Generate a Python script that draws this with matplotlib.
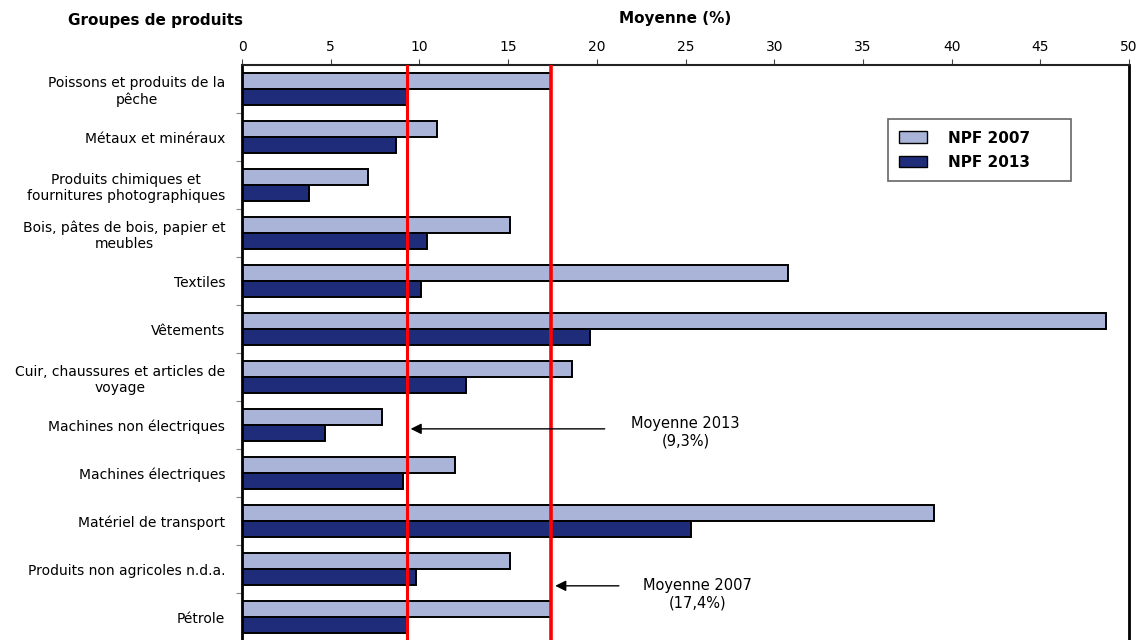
import numpy as np
import matplotlib.pyplot as plt
from matplotlib.patches import Patch

# Tarifs moyens NPF par groupe de produits
groupes = [
    "Poissons et produits de la\npêche",
    "Métaux et minéraux",
    "Produits chimiques et\nfournitures photographiques",
    "Bois, pâtes de bois, papier et\nmeubles",
    "Textiles",
    "Vêtements",
    "Cuir, chaussures et articles de\nvoyage",
    "Machines non électriques",
    "Machines électriques",
    "Matériel de transport",
    "Produits non agricoles n.d.a.",
    "Pétrole",
]
npf_2007 = [17.4, 11.0, 7.1, 15.1, 30.8, 48.7, 18.6, 7.9, 12.0, 39.0, 15.1, 17.4]
npf_2013 = [9.3, 8.7, 3.8, 10.4, 10.1, 19.6, 12.6, 4.7, 9.1, 25.3, 9.8, 9.3]
moy_2007 = 17.4
moy_2013 = 9.3

c2007 = '#A9B4D8'
c2013 = '#1F2C7A'

plt.rcParams['font.family'] = ['DejaVu Sans']

fig = plt.figure(figsize=(11.41, 6.40), dpi=100)
ax = fig.add_axes([0.2121, -0.0016, 0.7774, 0.9000])

y = np.arange(len(groupes))
h = 0.34
ax.barh(y - h / 2, npf_2007, height=h, color=c2007, edgecolor='black', linewidth=1.4, zorder=2)
ax.barh(y + h / 2, npf_2013, height=h, color=c2013, edgecolor='black', linewidth=1.4, zorder=2)

# lignes des moyennes
ax.axvline(moy_2013, color='#FF0000', linewidth=2.2, zorder=3)
ax.axvline(moy_2007, color='#FF0000', linewidth=2.6, zorder=3)

ax.set_xlim(0, 50)
ax.set_ylim(len(groupes) - 0.5, -0.5)
ax.set_xticks(np.arange(0, 51, 5))
ax.xaxis.tick_top()
ax.tick_params(axis='x', direction='out', length=4, width=0.8, color='#444444',
               labelsize=10, pad=4)

ax.set_yticks(y)
ax.set_yticklabels(groupes, fontsize=10, multialignment='center')
ax.set_yticks(np.arange(0.5, len(groupes) - 0.5, 1), minor=True)
ax.tick_params(axis='y', which='major', length=0, pad=12)
ax.tick_params(axis='y', which='minor', length=4, width=0.8, color='#888888')

ax.spines['bottom'].set_visible(False)
ax.spines['left'].set_linewidth(2)
ax.spines['right'].set_linewidth(2)
ax.spines['top'].set_linewidth(1.5)
ax.spines['top'].set_color('#222222')

fig.text(0.136, 0.968, "Groupes de produits", fontsize=11, fontweight='bold',
         ha='center', va='center')
fig.text(0.592, 0.971, "Moyenne (%)", fontsize=11, fontweight='bold',
         ha='center', va='center')

handles = [Patch(facecolor=c2007, edgecolor='black', linewidth=1),
           Patch(facecolor=c2013, edgecolor='black', linewidth=1)]
leg = ax.legend(handles, ["NPF 2007", "NPF 2013"], loc='upper left',
                bbox_to_anchor=(0.7283, 0.799, 0.2063, 0.107), mode='expand',
                borderaxespad=0, prop={'weight': 'bold', 'size': 11},
                fancybox=False, framealpha=1, edgecolor='#666666',
                borderpad=0.75, handlelength=1.8, handleheight=0.8, labelspacing=0.6,
                handletextpad=1.4)
leg.get_frame().set_linewidth(1.2)

# annotations des moyennes
ax.annotate("", xy=(moy_2013 + 0.05, 7.08), xytext=(20.6, 7.08),
            arrowprops=dict(arrowstyle='-|>', color='black', lw=1, mutation_scale=16))
ax.text(25.0, 7.15, "Moyenne 2013\n(9,3%)", fontsize=10.5, ha='center', va='center',
        multialignment='center')
ax.annotate("", xy=(moy_2007 + 0.1, 10.35), xytext=(21.4, 10.35),
            arrowprops=dict(arrowstyle='-|>', color='black', lw=1, mutation_scale=16))
ax.text(25.7, 10.52, "Moyenne 2007\n(17,4%)", fontsize=10.5, ha='center', va='center',
        multialignment='center')

fig.savefig("out.png", dpi=100)
